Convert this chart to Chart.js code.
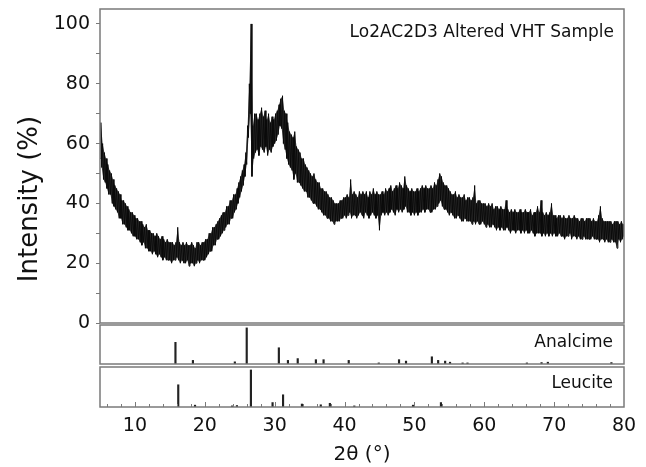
<!DOCTYPE html>
<html>
<head>
<meta charset="utf-8">
<script src="https://cdn.jsdelivr.net/npm/chart.js@4.4.1/dist/chart.umd.min.js"></script>
<style>
  html, body { margin: 0; padding: 0; background: #fff; }
  #wrap { position: relative; width: 646px; height: 467px; overflow: hidden; }
  canvas { position: absolute; left: 0; }
</style>
</head>
<body>
<div id="wrap">
  <canvas id="mainChart" width="646" height="330" style="top:0"></canvas>
  <canvas id="analcimeChart" width="646" height="50" style="top:318px"></canvas>
  <canvas id="leuciteChart" width="646" height="107" style="top:360px"></canvas>
</div>
<script>
const startAngle = 5;
const angleStep = 0.25;
// low side of the noisy trace (one row = 5 deg)
const traceLow = [
  55, 52, 48, 47, 45, 43, 43, 40, 39, 38, 37, 35, 35, 33, 33, 32, 31, 31, 30, 29,
  29, 28, 28, 27, 26, 27, 25, 25, 24, 24, 23, 24, 23, 22, 23, 22, 21, 22, 21, 21,
  21, 20, 21, 21, 22, 21, 20, 21, 20, 20, 21, 19, 20, 20, 19, 20, 21, 20, 21, 21,
  21, 22, 23, 24, 24, 26, 26, 28, 28, 29, 30, 31, 32, 33, 33, 35, 35, 37, 38, 40,
  42, 44, 46, 49, 53, 62, 70, 49, 55, 57, 58, 56, 59, 58, 57, 59, 56, 58, 57, 59,
  60, 61, 63, 66, 65, 60, 58, 55, 53, 52, 51, 48, 50, 47, 47, 46, 45, 44, 44, 42,
  42, 41, 40, 40, 39, 38, 38, 37, 36, 36, 35, 35, 34, 34, 33, 34, 34, 34, 35, 35,
  36, 35, 36, 37, 35, 36, 36, 35, 36, 37, 36, 35, 37, 36, 35, 36, 37, 36, 35, 36,
  31, 36, 37, 36, 37, 36, 37, 38, 37, 36, 38, 37, 38, 37, 38, 39, 37, 37, 36, 37,
  36, 37, 36, 37, 37, 38, 37, 38, 38, 37, 37, 38, 38, 39, 40, 41, 39, 38, 38, 37,
  36, 37, 36, 35, 35, 36, 35, 34, 34, 35, 34, 34, 34, 33, 34, 33, 34, 33, 33, 34,
  33, 32, 33, 32, 32, 33, 32, 31, 32, 31, 32, 31, 31, 32, 31, 30, 31, 31, 30, 31,
  31, 30, 31, 30, 31, 30, 30, 31, 30, 29, 30, 30, 30, 29, 30, 29, 30, 29, 30, 29,
  30, 29, 29, 30, 29, 29, 28, 29, 29, 30, 28, 29, 29, 28, 29, 28, 28, 29, 28, 28,
  28, 28, 29, 28, 28, 28, 27, 28, 28, 27, 28, 27, 27, 28, 27, 27, 25, 28, 27, 28,
  29
];
// high side of the noisy trace, half a sample after each low value
const traceHigh = [
  67, 60, 57, 55, 53, 51, 50, 48, 46, 45, 44, 43, 41, 41, 40, 39, 38, 37, 37, 36,
  35, 35, 34, 34, 33, 32, 33, 31, 31, 30, 30, 29, 30, 29, 28, 29, 28, 27, 28, 27,
  27, 27, 26, 27, 32, 27, 26, 27, 26, 27, 26, 26, 27, 26, 25, 27, 27, 26, 27, 27,
  28, 28, 30, 30, 32, 32, 33, 34, 35, 36, 37, 37, 39, 39, 41, 41, 43, 43, 45, 47,
  49, 51, 53, 57, 66, 80, 100, 66, 70, 70, 68, 70, 72, 69, 71, 68, 70, 67, 69, 68,
  70, 71, 73, 75, 76, 71, 70, 67, 64, 63, 62, 64, 59, 58, 57, 55, 55, 53, 52, 51,
  50, 49, 50, 48, 47, 47, 45, 45, 44, 44, 43, 42, 42, 41, 40, 40, 40, 41, 41, 42,
  42, 43, 42, 48, 43, 44, 43, 42, 44, 43, 44, 43, 44, 42, 44, 43, 45, 43, 44, 43,
  43, 44, 43, 45, 44, 45, 46, 44, 45, 46, 45, 47, 46, 45, 49, 46, 45, 44, 45, 44,
  44, 45, 44, 45, 46, 45, 46, 45, 45, 46, 45, 47, 46, 48, 50, 49, 47, 46, 46, 45,
  44, 43, 43, 44, 42, 43, 42, 42, 43, 41, 42, 42, 41, 42, 46, 40, 41, 41, 40, 40,
  40, 39, 40, 39, 40, 38, 39, 39, 38, 39, 38, 38, 41, 38, 37, 38, 37, 38, 37, 37,
  38, 37, 37, 38, 37, 37, 38, 36, 37, 37, 39, 37, 41, 37, 36, 37, 36, 37, 40, 36,
  36, 35, 36, 36, 35, 36, 35, 35, 36, 35, 35, 36, 35, 35, 34, 35, 35, 34, 35, 35,
  35, 34, 35, 34, 34, 36, 39, 35, 34, 34, 34, 34, 34, 33, 34, 34, 34, 33, 34, 33,
  33
];

// reference patterns (relative intensity, %)
const analcimeAngles = [15.8, 18.3, 24.3, 26.0, 30.6, 31.9, 33.3, 35.9, 37.0, 40.6, 44.9, 47.8, 48.8, 52.5, 53.4, 54.4, 55.1, 56.9, 57.6, 66.1, 68.2, 69.1, 78.2];
const analcimeIntensity = [60, 10, 6, 100, 45, 10, 15, 12, 12, 10, 3, 12, 8, 20, 10, 8, 5, 3, 3, 3, 4, 5, 4];
const leuciteAngles = [16.2, 18.6, 23.9, 24.6, 26.6, 29.7, 31.2, 33.9, 36.6, 37.9, 41.4, 49.8, 53.8];
const leuciteIntensity = [60, 5, 3, 4, 100, 12, 33, 8, 6, 10, 3, 5, 12];

const xTicks = [10, 20, 30, 40, 50, 60, 70, 80];
const yTicks = [0, 20, 40, 60, 80, 100];

const FONT = "'DejaVu Sans', Verdana, sans-serif";
const FRAME = "#7a7a7a";
const INK = "#111";

// zig-zag between the two sides of the trace, and the two sides on their own
const tracePoints = [];
const lowPoints = [];
const highPoints = [];
traceLow.forEach((lo, i) => {
  const x = startAngle + i * angleStep;
  const xh = x + angleStep / 2;
  tracePoints.push({ x: x, y: lo });
  tracePoints.push({ x: xh, y: traceHigh[i] });
  lowPoints.push({ x: x, y: lo });
  highPoints.push({ x: xh, y: traceHigh[i] });
});

// frame around each panel, plus labels drawn inside it
const panelFrame = {
  id: "panelFrame",
  afterDraw(chart, args, opts) {
    const { ctx, chartArea: a } = chart;
    ctx.save();
    ctx.strokeStyle = FRAME;
    ctx.lineWidth = 1.5;
    ctx.strokeRect(a.left, a.top, a.right - a.left, a.bottom - a.top);
    ctx.fillStyle = INK;
    if (opts.label) {
      ctx.font = opts.size + "px " + FONT;
      ctx.textAlign = "right";
      ctx.textBaseline = "middle";
      ctx.fillText(opts.label, opts.x, opts.y);
    }
    if (opts.yTitle) {
      ctx.translate(30, 199);
      ctx.rotate(-Math.PI / 2);
      ctx.font = "26px " + FONT;
      ctx.textAlign = "center";
      ctx.textBaseline = "middle";
      ctx.fillText(opts.yTitle, 0, 0);
    }
    ctx.restore();
    if (opts.minorTicks) {
      const xs = chart.scales.x;
      ctx.save();
      ctx.strokeStyle = FRAME;
      ctx.lineWidth = 1;
      for (let v = 6; v < 80; v += 2) {
        const px = Math.round(xs.getPixelForValue(v)) + 0.5;
        const len = v % 10 === 0 ? 5 : 3;
        ctx.beginPath();
        ctx.moveTo(px, a.bottom);
        ctx.lineTo(px, a.bottom - len);
        ctx.stroke();
      }
      ctx.restore();
    }
  },
};

const noEdgePad = (s) => {
  s.paddingTop = 0;
  s.paddingBottom = 0;
  s.paddingLeft = 0;
  s.paddingRight = 0;
};

const hiddenX = { type: "linear", min: 5, max: 80, display: false, offset: false };

// main XRD pattern
new Chart(document.getElementById("mainChart"), {
  type: "line",
  data: {
    datasets: [
      { data: lowPoints, borderWidth: 0, pointRadius: 0, fill: false },
      { data: highPoints, borderWidth: 0, pointRadius: 0, fill: "-1", backgroundColor: "rgba(10,10,10,0.78)" },
      { data: tracePoints, borderColor: "#000", borderWidth: 0.9, pointRadius: 0, tension: 0, fill: false },
    ],
  },
  options: {
    responsive: false,
    animation: false,
    layout: { padding: { left: 0, right: 22, top: 9, bottom: 7 } },
    scales: {
      x: hiddenX,
      y: {
        min: 0,
        max: 105,
        afterBuildTicks: (s) => {
          s.ticks = [];
          for (let v = 0; v <= 100; v += 10) s.ticks.push({ value: v });
        },
        afterFit: (s) => { s.width = 100; noEdgePad(s); },
        ticks: {
          callback: (v) => (yTicks.includes(v) ? v : ""),
          font: { family: FONT, size: 19 },
          color: INK,
          padding: 6,
        },
        grid: { drawOnChartArea: false, tickLength: 4, color: FRAME },
        border: { display: false },
      },
    },
    plugins: {
      legend: { display: false },
      tooltip: { enabled: false },
      panelFrame: { label: "Lo2AC2D3 Altered VHT Sample", x: 614, y: 33, size: 17, yTitle: "Intensity (%)" },
    },
  },
  plugins: [panelFrame],
});

function stickChart(id, angles, values, name, labelY, padBottom, showAxis) {
  const xScale = showAxis ? {
    type: "linear",
    min: 5,
    max: 80,
    offset: false,
    afterBuildTicks: (s) => { s.ticks = xTicks.map((v) => ({ value: v })); },
    afterFit: (s) => { s.height = 60; noEdgePad(s); },
    ticks: { font: { family: FONT, size: 19 }, color: INK, padding: 8, maxRotation: 0 },
    grid: { display: false, drawTicks: false, offset: false },
    border: { display: false },
    title: { display: true, text: "2θ (°)", font: { family: FONT, size: 20 }, color: INK, padding: { top: 0, bottom: 0 } },
  } : hiddenX;

  return new Chart(document.getElementById(id), {
    type: "bar",
    data: {
      datasets: [{
        data: angles.map((a, i) => ({ x: a, y: values[i] })),
        backgroundColor: "#222",
        barThickness: 1.5,
      }],
    },
    options: {
      responsive: false,
      animation: false,
      layout: { padding: { left: 100, right: 22, top: 7, bottom: padBottom } },
      scales: {
        x: xScale,
        y: { min: 0, max: 108, display: false },
      },
      plugins: {
        legend: { display: false },
        tooltip: { enabled: false },
        panelFrame: { label: name, x: 613, y: labelY, size: 17, minorTicks: showAxis },
      },
    },
    plugins: [panelFrame],
  });
}

stickChart("analcimeChart", analcimeAngles, analcimeIntensity, "Analcime", 25, 4, false);
stickChart("leuciteChart", leuciteAngles, leuciteIntensity, "Leucite", 24, 0, true);
</script>
</body>
</html>
